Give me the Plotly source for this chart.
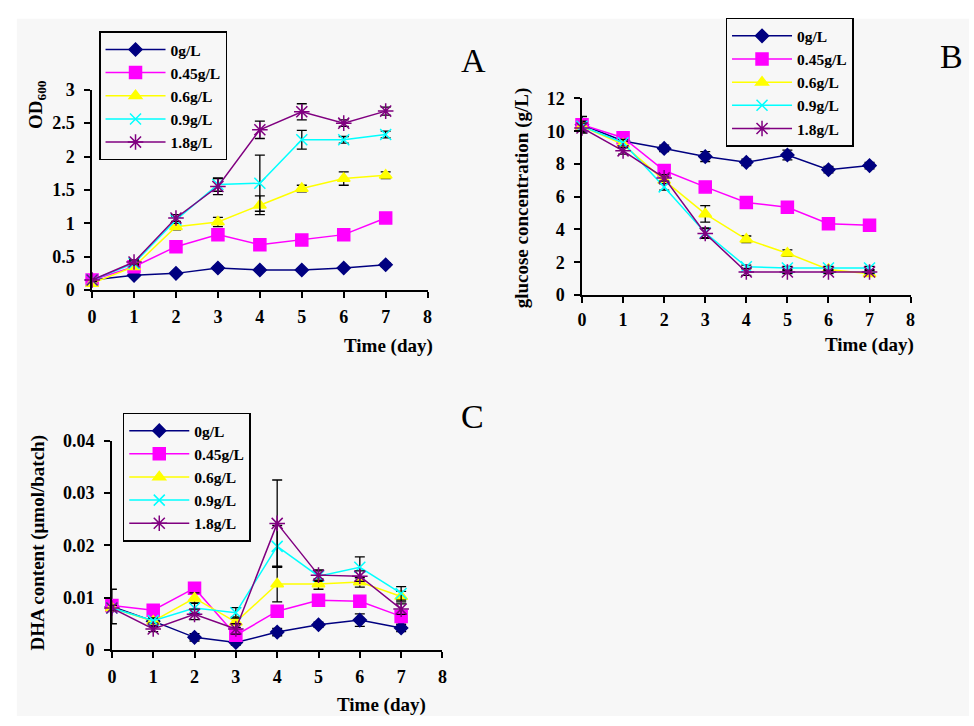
import plotly.graph_objects as go

days = [0, 1, 2, 3, 4, 5, 6, 7]
series_names = ["0g/L", "0.45g/L", "0.6g/L", "0.9g/L", "1.8g/L"]

# Panel A: OD600
od_0 = [0.15, 0.22, 0.25, 0.33, 0.30, 0.30, 0.33, 0.38]
od_045 = [0.15, 0.35, 0.65, 0.83, 0.68, 0.75, 0.83, 1.08]
od_06 = [0.10, 0.35, 0.95, 1.02, 1.27, 1.52, 1.67, 1.72]
od_09 = [0.15, 0.40, 1.05, 1.58, 1.60, 2.25, 2.25, 2.33]
od_18 = [0.15, 0.42, 1.08, 1.55, 2.40, 2.67, 2.50, 2.68]
od_err_0 = [0.02, 0.02, 0.02, 0.03, 0.02, 0.02, 0.02, 0.03]
od_err_045 = [0.02, 0.03, 0.05, 0.05, 0.04, 0.04, 0.05, 0.06]
od_err_06 = [0.02, 0.03, 0.05, 0.07, 0.14, 0.05, 0.10, 0.05]
od_err_09 = [0.02, 0.03, 0.05, 0.10, 0.42, 0.14, 0.05, 0.05]
od_err_18 = [0.02, 0.03, 0.05, 0.12, 0.13, 0.12, 0.05, 0.06]

# Panel B: glucose concentration (g/L)
glc_0 = [10.4, 9.4, 8.95, 8.45, 8.1, 8.55, 7.65, 7.9]
glc_045 = [10.4, 9.6, 7.6, 6.6, 5.65, 5.35, 4.35, 4.25]
glc_06 = [10.3, 9.2, 7.0, 4.95, 3.4, 2.55, 1.55, 1.3]
glc_09 = [10.3, 9.3, 6.6, 3.8, 1.72, 1.65, 1.65, 1.65]
glc_18 = [10.2, 8.8, 7.15, 3.75, 1.4, 1.4, 1.4, 1.4]
glc_err_0 = [0.5, 0.2, 0.2, 0.3, 0.2, 0.3, 0.2, 0.2]
glc_err_045 = [0.3, 0.2, 0.2, 0.2, 0.2, 0.2, 0.2, 0.2]
glc_err_06 = [0.3, 0.2, 0.2, 0.5, 0.2, 0.2, 0.1, 0.1]
glc_err_09 = [0.3, 0.2, 0.2, 0.3, 0.1, 0.1, 0.1, 0.1]
glc_err_18 = [0.3, 0.2, 0.2, 0.3, 0.2, 0.1, 0.1, 0.1]

# Panel C: DHA content (umol/batch)
dha_0 = [0.0083, 0.0055, 0.0024, 0.0014, 0.0034, 0.0048, 0.0057, 0.0042]
dha_045 = [0.0085, 0.0076, 0.0118, 0.0028, 0.0074, 0.0095, 0.0093, 0.0064]
dha_06 = [0.0080, 0.0055, 0.0099, 0.0053, 0.0126, 0.0126, 0.0130, 0.0102]
dha_09 = [0.0080, 0.0056, 0.0080, 0.0071, 0.0198, 0.0141, 0.0158, 0.0108]
dha_18 = [0.0080, 0.0040, 0.0068, 0.0040, 0.0242, 0.0143, 0.0141, 0.0078]
dha_err_0 = [0.0033, 0.0005, 0.0007, 0.0005, 0.0007, 0.0005, 0.0012, 0.0007]
dha_err_045 = [0.0005, 0.0010, 0.0010, 0.0008, 0.0008, 0.0008, 0.0010, 0.0010]
dha_err_06 = [0.0005, 0.0005, 0.0010, 0.0010, 0.0034, 0.0010, 0.0010, 0.0010]
dha_err_09 = [0.0005, 0.0005, 0.0010, 0.0010, 0.0040, 0.0010, 0.0020, 0.0013]
dha_err_18 = [0.0005, 0.0005, 0.0010, 0.0010, 0.0083, 0.0010, 0.0010, 0.0010]

x_ticks = [0, 1, 2, 3, 4, 5, 6, 7, 8]
od_ticks = [0, 0.5, 1, 1.5, 2, 2.5, 3]
od_tick_labels = ["0", "0.5", "1", "1.5", "2", "2.5", "3"]
glc_ticks = [0, 2, 4, 6, 8, 10, 12]
dha_ticks = [0, 0.01, 0.02, 0.03, 0.04]
dha_tick_labels = ["0", "0.01", "0.02", "0.03", "0.04"]

colors = ["#000080", "#FF00FF", "#FFFF00", "#00FFFF", "#800080"]
symbols = ["diamond", "square", "triangle-up", "x-thin-open", "asterisk-open"]
sizes = [10, 12, 11, 11, 13]

FONT = "Liberation Serif"
W, H = 974, 726

fig = go.Figure()

panels = [
    ("x", "y", "legend", [od_0, od_045, od_06, od_09, od_18],
     [od_err_0, od_err_045, od_err_06, od_err_09, od_err_18]),
    ("x2", "y2", "legend2", [glc_0, glc_045, glc_06, glc_09, glc_18],
     [glc_err_0, glc_err_045, glc_err_06, glc_err_09, glc_err_18]),
    ("x3", "y3", "legend3", [dha_0, dha_045, dha_06, dha_09, dha_18],
     [dha_err_0, dha_err_045, dha_err_06, dha_err_09, dha_err_18]),
]

for xa, ya, lg, vals, errs in panels:
    for i, name in enumerate(series_names):
        mline = dict(color=colors[i], width=1.5)
        fig.add_trace(go.Scatter(
            x=days, y=vals[i], name=name, mode="lines+markers",
            xaxis=xa, yaxis=ya, legend=lg, cliponaxis=False,
            line=dict(color=colors[i], width=1.5),
            marker=dict(symbol=symbols[i], size=sizes[i], color=colors[i], line=mline),
            error_y=dict(type="data", array=errs[i], visible=True,
                         color="black", thickness=1.3, width=5),
        ))

def px_x(p):
    return p / W

def px_y(p):
    return 1 - p / H

axis_common = dict(
    showline=True, linecolor="black", linewidth=1.5, ticks="outside",
    ticklen=6, tickwidth=1.5, tickcolor="black", showgrid=False, zeroline=False,
    tickfont=dict(family=FONT, size=18, color="black", weight="bold"),
    mirror=False,
)

layout = dict(
    width=W, height=H, margin=dict(l=0, r=0, t=0, b=0),
    paper_bgcolor="white", plot_bgcolor="rgba(0,0,0,0)",
    showlegend=True,
    xaxis=dict(domain=[px_x(88), px_x(427)], range=[0, 8], tickvals=x_ticks,
               anchor="y", ticklabelstandoff=4, **axis_common),
    yaxis=dict(domain=[px_y(288), px_y(82)], range=[0, 3], tickvals=od_ticks,
               ticktext=od_tick_labels, anchor="x", ticklabelstandoff=6, **axis_common),
    xaxis2=dict(domain=[px_x(583), px_x(915)], range=[0, 8], tickvals=x_ticks,
                anchor="y2", ticklabelstandoff=2, **axis_common),
    yaxis2=dict(domain=[px_y(293), px_y(91)], range=[0, 12], tickvals=glc_ticks,
                anchor="x2", ticklabelstandoff=6, **axis_common),
    xaxis3=dict(domain=[px_x(108), px_x(442)], range=[0, 8], tickvals=x_ticks,
                anchor="y3", ticklabelstandoff=4, **axis_common),
    yaxis3=dict(domain=[px_y(658), px_y(443)], range=[0, 0.04], tickvals=dha_ticks,
                ticktext=dha_tick_labels, anchor="x3", ticklabelstandoff=6, **axis_common),
)

legend_style = dict(
    xanchor="left", yanchor="top", bgcolor="rgba(0,0,0,0)",
    bordercolor="black", borderwidth=1.5,
    font=dict(family=FONT, size=15.5, color="black", weight="bold"),
    tracegroupgap=0, itemsizing="trace", itemwidth=60,
)
layout["legend"] = dict(x=px_x(95), y=px_y(22), **legend_style)
layout["legend2"] = dict(x=px_x(728), y=px_y(8), **legend_style)
layout["legend3"] = dict(x=px_x(119), y=px_y(414), **legend_style)

fig.update_layout(**layout)

# grey background area of the original figure
fig.add_shape(type="rect", xref="paper", yref="paper",
              x0=px_x(12), x1=1, y0=0, y1=px_y(9),
              fillcolor="#f7f7f7", line=dict(width=0), layer="below")

title_font = dict(family=FONT, size=19, color="black", weight="bold")
annots = [
    dict(text="Time (day)", x=px_x(387), y=px_y(346), font=title_font),
    dict(text="Time (day)", x=px_x(873), y=px_y(345), font=title_font),
    dict(text="Time (day)", x=px_x(380), y=px_y(715), font=title_font),
    dict(text="OD<sub>600</sub>", x=px_x(33), y=px_y(97), textangle=-90, font=title_font),
    dict(text="glucose concentration (g/L)", x=px_x(522), y=px_y(193), textangle=-90, font=title_font),
    dict(text="DHA content (μmol/batch)", x=px_x(33), y=px_y(548), textangle=-90, font=title_font),
    dict(text="A", x=px_x(473), y=px_y(52), font=dict(family=FONT, size=34, color="black")),
    dict(text="B", x=px_x(956), y=px_y(48), font=dict(family=FONT, size=34, color="black")),
    dict(text="C", x=px_x(472), y=px_y(418), font=dict(family=FONT, size=34, color="black")),
]
for a in annots:
    fig.add_annotation(xref="paper", yref="paper", xanchor="center", yanchor="middle",
                       showarrow=False, **a)

fig.write_html("out.html")
